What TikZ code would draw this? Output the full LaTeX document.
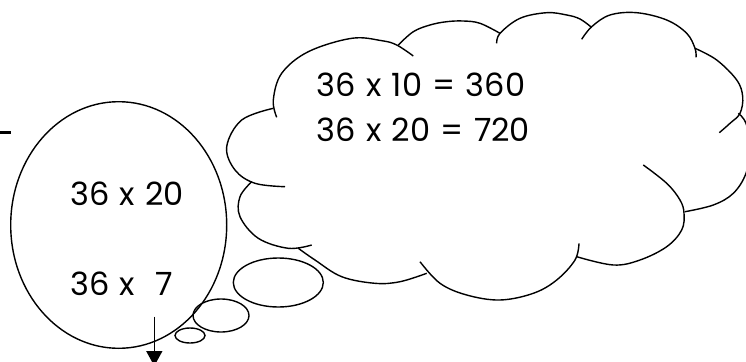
\documentclass[tikz,border=0pt]{standalone}
\usepackage{fontspec}
\setmainfont{Poppins}[WordSpace=1.2]
\usetikzlibrary{arrows.meta,shapes.geometric}

\tikzset{
  sum/.style={anchor=base west, inner sep=0pt, font=\fontsize{32}{36}\selectfont},
  bubble/.style={draw, ellipse, line width=1.4pt, inner sep=0pt},
  lobe/.style={line width=1.4pt, smooth, tension=0.6},
}

\begin{document}
\begin{tikzpicture}[x=1pt, y=-1pt]
            \useasboundingbox (0,0) rectangle (746,361);

            \draw[line width=3pt] (0,132.3) -- (10.7,132.3);

            \node[bubble, minimum width=216pt, minimum height=246.6pt] (split) at (118.7,225) {};
            \node[sum] (part1) at (70,205) {36 x 20};
            \node[sum] (part2) at (70,295) {36 x~ 7};

            \node[bubble, minimum width=90pt, minimum height=49pt] (thinkA) at (278.3,282.5) {};
            \node[bubble, minimum width=56pt, minimum height=33pt] (thinkB) at (221,315.5) {};
            \node[bubble, minimum width=30pt, minimum height=15pt] (thinkC) at (190,335.5) {};

            % cloud
            \draw[lobe] plot coordinates {(273.3,108.3) (241.7,120) (226.7,146.7) (235,170) (255,183.3) (285,186.7)};
            \draw[lobe] plot coordinates {(276.7,117.3) (273.3,100) (281.7,73.3) (308.3,51.7) (351.7,38.3) (381.7,40.7) (396.7,45) (413.3,56)};
            \draw[lobe] plot coordinates {(398.3,45) (413.3,31.7) (430,25) (446.7,21.7) (463.3,21) (480,23.3) (500,33.3)};
            \draw[lobe] plot coordinates {(496.7,43.3) (500,33.3) (520,18.3) (546.7,12.7) (566.7,15) (580,19) (591.7,27.5)};
            \draw[lobe] plot coordinates {(581.7,39.3) (591.7,26.7) (610,15) (636.7,12.7) (666.7,20) (686.7,33.3) (695,48.3) (696,57.3)};
            \draw[lobe] plot coordinates {(695,48.3) (716.7,60) (736.7,80) (742.7,96.7) (740,113.3) (730,123.3) (719.3,132.7)};
            \draw[lobe] plot coordinates {(738.3,113.3) (746,123.3) (750,148) (746,173.3) (733.3,193.3) (713.3,205) (685,211.7)};
            \draw[lobe] plot coordinates {(643.3,165) (666.7,183.3) (680,200) (684,213.3) (681.7,230) (666.7,246.7) (640,260) (613.3,265) (576.7,256.7)};
            \draw[lobe] plot coordinates {(579,243.3) (575,260) (556.7,280) (533.3,293.3) (500,300) (466.7,295) (440,283.3) (420,261.7)};
            \draw[lobe] plot coordinates {(426.7,273.3) (400,281.7) (375,283.3) (341.7,276.7) (315,260) (298.3,248.3)};
            \draw[lobe] plot coordinates {(311.7,245) (288.3,248.3) (258.3,238.3) (240,216.7) (240,196.7) (251.7,181.7)};

            \node[sum] (tens) at (316.7,96.7) {36 x 10 = 360};
            \node[sum] (twenties) at (316.7,141.7) {36 x 20 = 720};

            \coordinate (down) at (154.3,316.7);
            \coordinate (below) at (154.3,366);
            \draw[-{Triangle[length=15pt, width=16pt]}, line width=1.6pt] (down) -- (below);
\end{tikzpicture}
\end{document}
